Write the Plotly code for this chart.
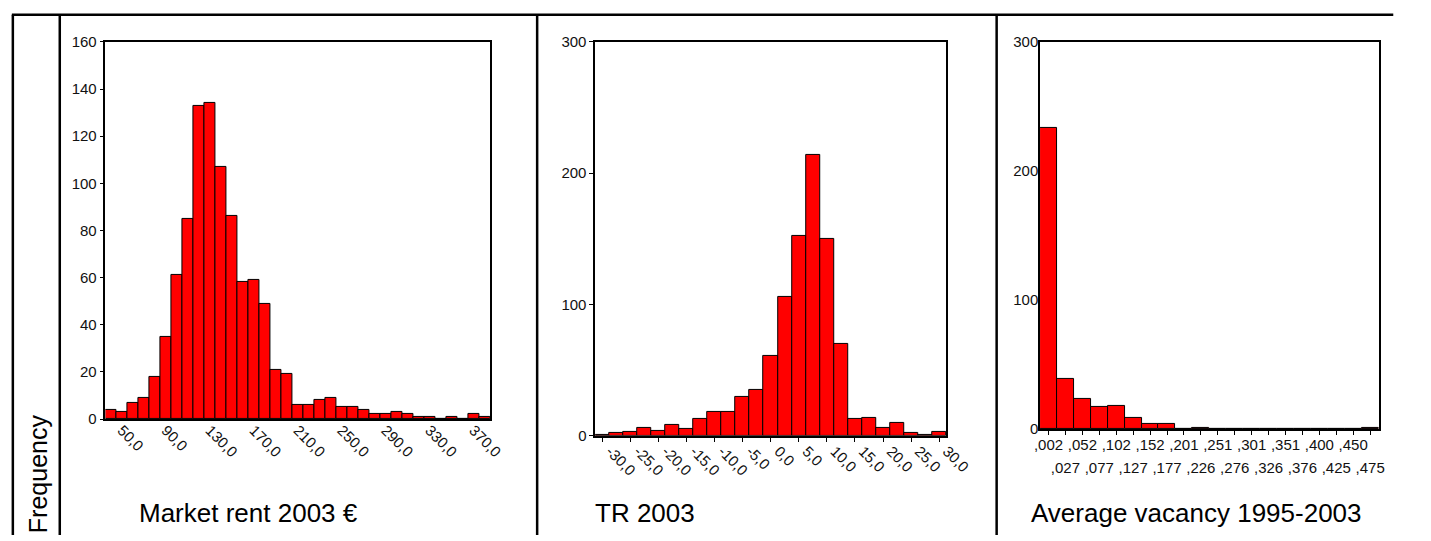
import plotly.graph_objects as go

W, H = 1431, 541

# ---------------- data ----------------
rent_bins = [40, 50, 60, 70, 80, 90, 100, 110, 120, 130, 140, 150, 160, 170, 180, 190,
             200, 210, 220, 230, 240, 250, 260, 270, 280, 290, 300, 310, 320, 330, 340,
             350, 360, 370, 380]
rent_counts = [4, 3, 7, 9, 18, 35, 61, 85, 133, 134, 107, 86, 58, 59, 49, 21,
               19, 6, 6, 8, 9, 5, 5, 4, 2, 2, 3, 2, 1, 1, 0,
               1, 0, 2, 1]
rent_ticks = [50, 90, 130, 170, 210, 250, 290, 330, 370]
rent_ticktext = ["50,0", "90,0", "130,0", "170,0", "210,0", "250,0", "290,0", "330,0", "370,0"]
rent_yticks = [0, 20, 40, 60, 80, 100, 120, 140, 160]

tr_bins = [-30, -27.5, -25, -22.5, -20, -17.5, -15, -12.5, -10, -7.5, -5, -2.5, 0,
           2.5, 5, 7.5, 10, 12.5, 15, 17.5, 20, 22.5, 25, 27.5, 30]
tr_counts = [1, 2, 3, 6, 4, 8, 5, 13, 18, 18, 30, 35, 61,
             106, 152, 214, 150, 70, 13, 14, 6, 10, 2, 1, 3]
tr_ticks = [-30, -25, -20, -15, -10, -5, 0, 5, 10, 15, 20, 25, 30]
tr_ticktext = ["-30,0", "-25,0", "-20,0", "-15,0", "-10,0", "-5,0", "0,0", "5,0",
               "10,0", "15,0", "20,0", "25,0", "30,0"]
tr_yticks = [0, 100, 200, 300]

vac_labels = [",002", ",027", ",052", ",077", ",102", ",127", ",152", ",177", ",201", ",226",
              ",251", ",276", ",301", ",326", ",351", ",376", ",400", ",425", ",450", ",475"]
vac_counts = [233, 39, 23, 17, 18, 9, 4, 4, 0, 1, 0, 0, 0, 0, 0, 0, 0, 0, 0, 1]
vac_yticks = [0, 100, 200, 300]

titles = ["Market rent 2003 €", "TR 2003", "Average vacancy 1995-2003"]
y_title = "Frequency"

# ---------------- layout helpers (pixel -> paper fraction) ----------------
def fx(px):
    return px / W


def fy(py):
    return 1 - py / H


FONT = "Arial, Liberation Sans, sans-serif"
RED = "#FF0000"
TICKFONT = dict(family=FONT, size=15, color="#111")

bar_style = dict(marker=dict(color=RED, line=dict(color="black", width=1)),
                 hoverinfo="skip", showlegend=False)

fig = go.Figure()
fig.add_trace(go.Bar(x=rent_bins, y=rent_counts, width=10, xaxis="x", yaxis="y", **bar_style))
fig.add_trace(go.Bar(x=tr_bins, y=tr_counts, width=2.5, xaxis="x2", yaxis="y2", **bar_style))
fig.add_trace(go.Bar(x=vac_labels, y=vac_counts, width=1, xaxis="x3", yaxis="y3", **bar_style))

# second row of vacancy tick labels lives on an overlaid axis; an empty, invisible
# trace is attached to it so that plotly draws that axis
odd_idx = [i for i in range(len(vac_labels)) if i % 2 == 1]
fig.add_trace(go.Scatter(x=odd_idx, y=[0] * len(odd_idx), mode="none", xaxis="x4", yaxis="y3",
                         hoverinfo="skip", showlegend=False))

axis_common = dict(showgrid=False, zeroline=False, showline=True, linecolor="black",
                   linewidth=1.5, mirror=True, tickfont=TICKFONT,
                   ticklen=4, tickcolor="black", fixedrange=True)

fig.update_layout(
    # panel 1
    xaxis=dict(domain=[fx(101.7), fx(495)], anchor="y", range=[35, 385],
               tickmode="array", tickvals=rent_ticks, ticktext=rent_ticktext,
               tickangle=45, ticks="", ticklabelstandoff=-5, **axis_common),
    yaxis=dict(domain=[fy(423.3), fy(34)], anchor="x", range=[0, 160],
               tickmode="array", tickvals=rent_yticks, ticks="outside", **axis_common),
    # panel 2
    xaxis2=dict(domain=[fx(602.7), fx(961.7)], anchor="y2", range=[-31.25, 31.25],
                tickmode="array", tickvals=tr_ticks, ticktext=tr_ticktext,
                tickangle=45, ticks="outside", ticklabelstandoff=-5, ticklabelshift=8,
                **axis_common),
    yaxis2=dict(domain=[fy(440.7), fy(34)], anchor="x2", range=[0, 300],
                tickmode="array", tickvals=tr_yticks, ticks="outside", **axis_common),
    # panel 3
    xaxis3=dict(domain=[fx(1057.7), fx(1404)], anchor="y3", type="category",
                range=[-0.5, len(vac_labels) - 0.5],
                tickmode="array", tickvals=vac_labels,
                ticktext=[lab if i % 2 == 0 else "" for i, lab in enumerate(vac_labels)],
                tickangle=0, ticks="outside", ticklabelstandoff=-3, **axis_common),
    xaxis4=dict(overlaying="x3", anchor="y3", side="bottom", range=[-0.5, len(vac_labels) - 0.5],
                tickmode="array", tickvals=odd_idx,
                ticktext=[vac_labels[i] for i in odd_idx],
                tickangle=0, showgrid=False, zeroline=False, showline=False, ticks="",
                tickfont=TICKFONT, ticklabelstandoff=28, fixedrange=True),
    yaxis3=dict(domain=[fy(433.7), fy(34)], anchor="x3", range=[0, 300],
                tickmode="array", tickvals=vac_yticks, ticks="", ticklabelstandoff=-3,
                **axis_common),
)

# borders of the table layout
shapes = [
    dict(type="line", xref="paper", yref="paper", x0=fx(6), x1=fx(1419), y0=fy(6), y1=fy(6),
         line=dict(color="black", width=2.5)),
]
for xv in [7, 55, 543.3, 1013.3]:
    shapes.append(dict(type="line", xref="paper", yref="paper", x0=fx(xv), x1=fx(xv),
                       y0=fy(6), y1=fy(H + 2), line=dict(color="black", width=2.5)))

annotations = []
for txt, xl in zip(titles, [134, 600.7, 1046]):
    annotations.append(dict(text=txt, x=fx(xl), y=fy(520), xref="paper", yref="paper",
                            xanchor="left", yanchor="middle", showarrow=False,
                            font=dict(family=FONT, size=26, color="black")))
annotations.append(dict(text=y_title, x=fx(33), y=fy(480), xref="paper", yref="paper",
                        xanchor="center", yanchor="middle", showarrow=False, textangle=-90,
                        font=dict(family=FONT, size=25, color="black")))

fig.update_layout(
    width=W, height=H, margin=dict(l=0, r=0, t=0, b=0, pad=0),
    paper_bgcolor="white", plot_bgcolor="white",
    shapes=shapes, annotations=annotations, bargap=0, barmode="overlay",
    font=dict(family=FONT), showlegend=False,
)

# remove the browser's default 8px body margin so the 1431x541 figure fills the window exactly
fig.write_html("out.html", config={"displayModeBar": False},
               post_script="document.body.style.margin='0px';")
